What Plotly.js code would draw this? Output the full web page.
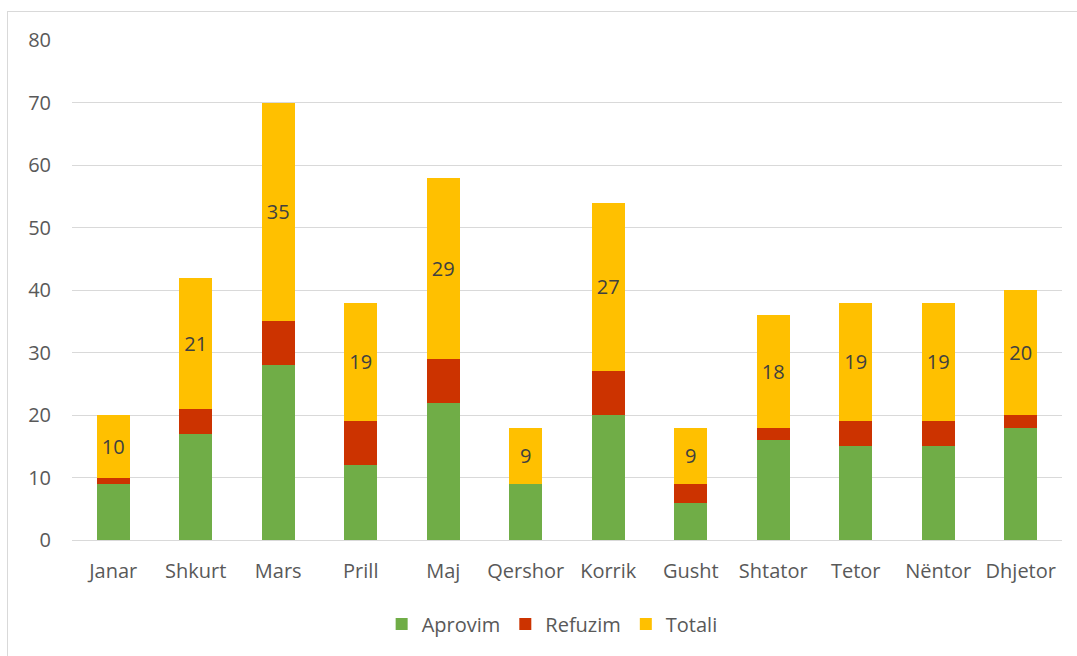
<!DOCTYPE html>
<html>
<head>
<meta charset="utf-8">
<script src="https://cdn.plot.ly/plotly-3.0.1.min.js"></script>
<style>
html,body{margin:0;padding:0;background:#fff;}
#frame{position:absolute;left:7px;top:11px;width:1080px;height:660px;border:1px solid #d9d9d9;box-sizing:border-box;}
#chart{position:absolute;left:0;top:0;width:1077px;height:656px;}
</style>
</head>
<body>
<div id="frame"></div>
<div id="chart"></div>
<script>
const months = ["Janar","Shkurt","Mars","Prill","Maj","Qershor","Korrik","Gusht","Shtator","Tetor","Nëntor","Dhjetor"];
const aprovim = [9,17,28,12,22,9,20,6,16,15,15,18];
const refuzim = [1,4,7,7,7,0,7,3,2,4,4,2];
const totali  = [10,21,35,19,29,9,27,9,18,19,19,20];

const font = {family:"'Open Sans', 'Noto Sans', sans-serif", size:20, color:"#595959"};

const traces = [
  {type:"bar", name:"Aprovim", x:months, y:aprovim, marker:{color:"#70AD47"}},
  {type:"bar", name:"Refuzim", x:months, y:refuzim, marker:{color:"#CC3300"}},
  {type:"bar", name:"Totali", x:months, y:totali, marker:{color:"#FFC000"},
   text:totali.map(String), textposition:"inside", insidetextanchor:"middle",
   textfont:{family:font.family, size:20, color:"#404040"}}
];

const layout = {
  width:1077, height:656,
  margin:{l:72, r:15, t:40, b:116},
  paper_bgcolor:"rgba(0,0,0,0)", plot_bgcolor:"rgba(0,0,0,0)",
  barmode:"stack", bargap:0.6,
  font:font,
  showlegend:true,
  legend:{orientation:"h", x:0.485, xanchor:"center", y:-0.168, yanchor:"middle", font:font, traceorder:"normal", itemwidth:30},
  xaxis:{type:"category", tickfont:font, showgrid:false, showline:true, linecolor:"#d9d9d9", linewidth:1, ticks:"", ticklabelstandoff:13, fixedrange:true},
  yaxis:{range:[0,80], dtick:10, tickfont:font, showgrid:true, gridcolor:"#d9d9d9", gridwidth:1, zeroline:true, zerolinecolor:"#d9d9d9", ticks:"", ticklabelstandoff:20, fixedrange:true},
  uniformtext:{mode:false}
};

Plotly.newPlot("chart", traces, layout, {displayModeBar:false, staticPlot:true});
</script>
</body>
</html>
